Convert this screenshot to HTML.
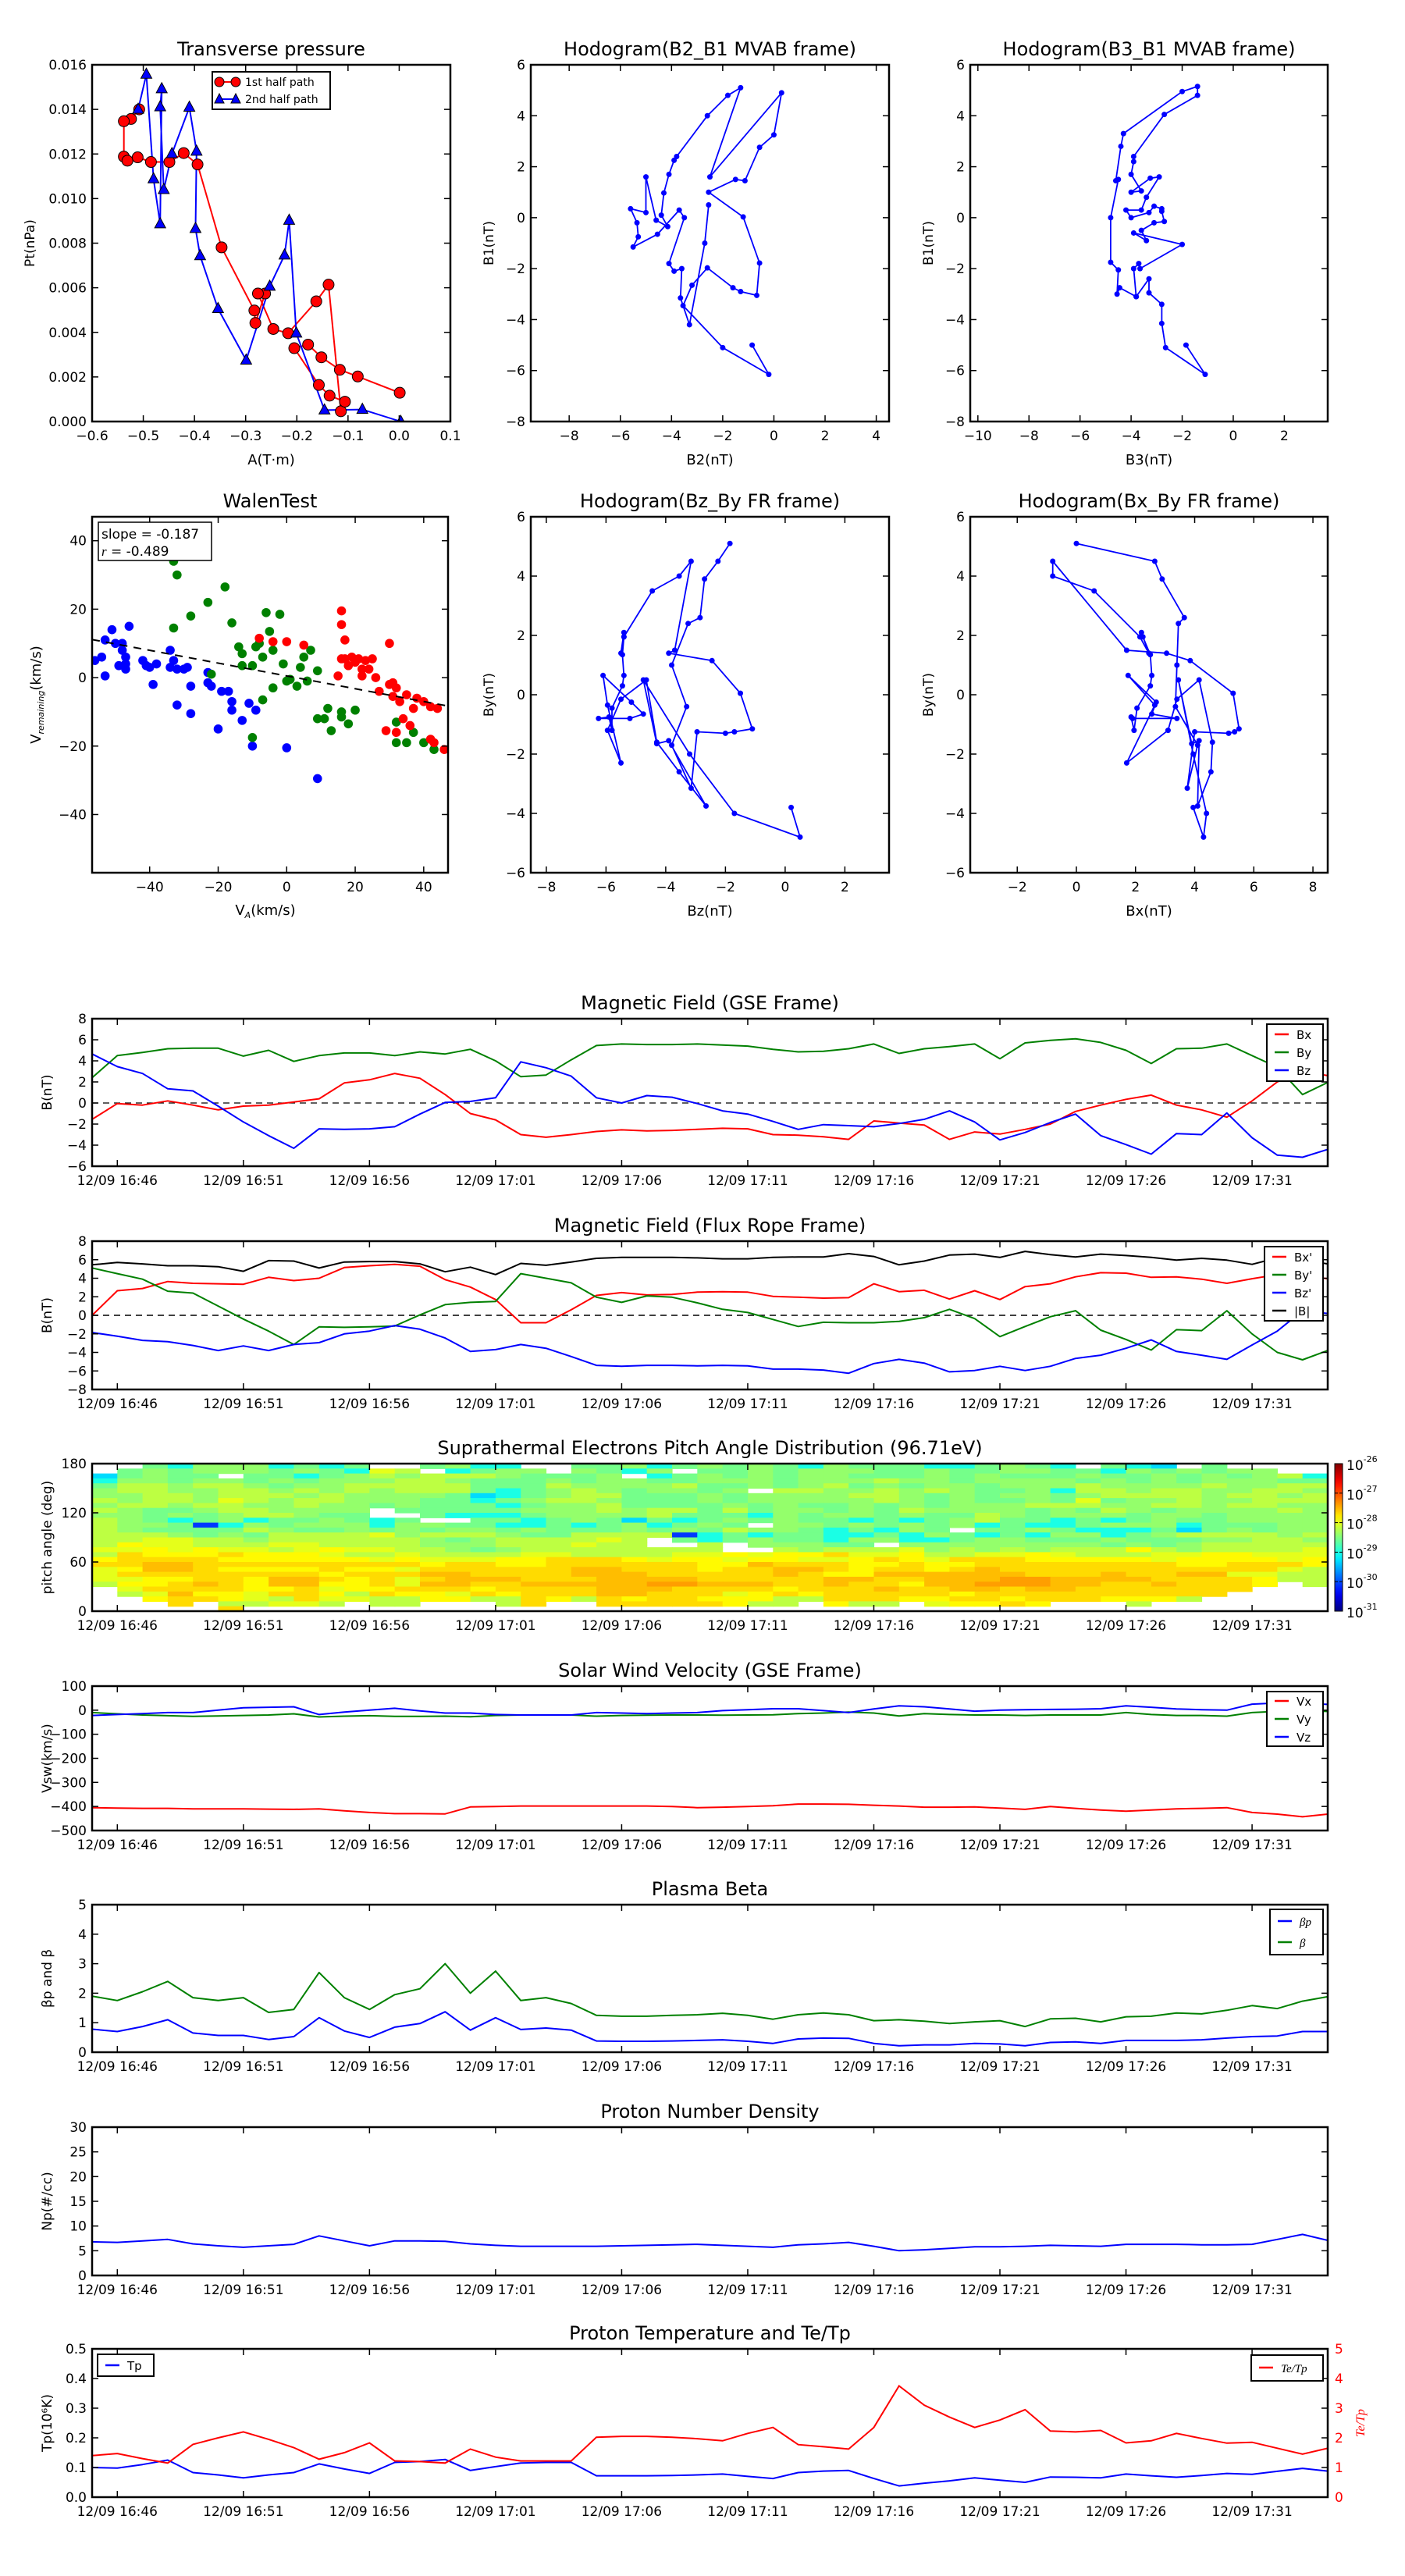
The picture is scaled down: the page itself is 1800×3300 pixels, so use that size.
<!DOCTYPE html>
<html><head><meta charset="utf-8"><style>
html,body{margin:0;padding:0;background:#fff;}
svg{display:block;font-family:"DejaVu Sans","Liberation Sans",sans-serif;}
</style></head><body>
<svg id="c" xmlns="http://www.w3.org/2000/svg" width="1800" height="3300" viewBox="0 0 1800 3300">
<rect x="0" y="0" width="1800" height="3300" fill="#fff"/>
</svg>
<script>
// ---------- time series data (1-min samples, 16:45 .. 17:34) ----------
const timeTickMinutes=[1,6,11,16,21,26,31,36,41,46];
const timeTickLabels=["12/09 16:46","12/09 16:51","12/09 16:56","12/09 17:01","12/09 17:06","12/09 17:11","12/09 17:16","12/09 17:21","12/09 17:26","12/09 17:31"];
const bxGSE=[-1.55,-0.05,-0.2,0.2,-0.2,-0.65,-0.3,-0.2,0.1,0.4,1.9,2.2,2.8,2.35,0.8,-1.0,-1.6,-3.0,-3.25,-3.0,-2.7,-2.55,-2.65,-2.6,-2.5,-2.4,-2.45,-3.0,-3.05,-3.2,-3.45,-1.7,-1.9,-2.1,-3.45,-2.75,-2.95,-2.5,-2.0,-0.8,-0.2,0.35,0.75,-0.2,-0.65,-1.35,0.2,2.0,3.0,2.6];
const byGSE=[2.4,4.5,4.8,5.15,5.2,5.2,4.45,5.0,3.95,4.5,4.75,4.75,4.5,4.85,4.65,5.1,4.0,2.5,2.65,4.1,5.45,5.6,5.55,5.55,5.6,5.5,5.4,5.1,4.85,4.9,5.15,5.6,4.7,5.15,5.35,5.6,4.2,5.7,5.95,6.1,5.75,5.0,3.75,5.15,5.2,5.6,4.5,3.4,0.8,1.95];
const bzGSE=[4.65,3.45,2.8,1.35,1.15,-0.3,-1.8,-3.1,-4.3,-2.45,-2.5,-2.45,-2.25,-1.05,0.05,0.15,0.5,3.9,3.35,2.55,0.5,0.0,0.7,0.55,-0.05,-0.75,-1.05,-1.75,-2.5,-2.05,-2.15,-2.25,-1.95,-1.55,-0.75,-1.8,-3.5,-2.8,-1.85,-1.05,-3.1,-3.95,-4.85,-2.9,-3.0,-0.95,-3.3,-4.95,-5.15,-4.4];
const bxFR=[0,2.65,2.9,3.65,3.45,3.4,3.35,4.1,3.75,4.0,5.15,5.35,5.5,5.3,3.85,3.05,1.7,-0.8,-0.8,0.6,2.15,2.45,2.2,2.25,2.5,2.55,2.5,2.05,1.95,1.85,1.9,3.4,2.55,2.7,1.75,2.65,1.7,3.1,3.4,4.15,4.6,4.55,4.1,4.15,3.9,3.45,3.95,4.4,4.3,3.95];
const byFR=[5.1,4.5,3.9,2.6,2.4,1.0,-0.4,-1.7,-3.15,-1.25,-1.3,-1.25,-1.15,0.05,1.15,1.4,1.5,4.5,4.0,3.5,1.95,1.4,2.1,1.95,1.35,0.65,0.3,-0.45,-1.2,-0.75,-0.8,-0.8,-0.65,-0.25,0.65,-0.35,-2.3,-1.2,-0.15,0.5,-1.6,-2.6,-3.75,-1.55,-1.65,0.5,-2.0,-4.0,-4.8,-3.8];
const bzFR=[-1.85,-2.25,-2.7,-2.85,-3.25,-3.8,-3.3,-3.8,-3.15,-2.95,-2.0,-1.7,-1.1,-1.5,-2.45,-3.9,-3.7,-3.15,-3.55,-4.45,-5.4,-5.5,-5.4,-5.4,-5.45,-5.4,-5.45,-5.8,-5.8,-5.9,-6.25,-5.2,-4.75,-5.15,-6.1,-5.95,-5.5,-5.95,-5.5,-4.65,-4.3,-3.55,-2.65,-3.9,-4.3,-4.75,-3.2,-1.7,0.5,0.2];
const btFR=[5.45,5.7,5.55,5.35,5.35,5.25,4.75,5.9,5.85,5.1,5.75,5.8,5.8,5.55,4.7,5.2,4.4,5.6,5.4,5.75,6.15,6.25,6.25,6.25,6.2,6.1,6.1,6.25,6.3,6.3,6.65,6.35,5.45,5.85,6.5,6.6,6.25,6.9,6.55,6.3,6.6,6.45,6.25,5.95,6.15,5.95,5.5,6.2,6.0,5.55];
const vx=[-405,-407,-408,-408,-410,-410,-410,-411,-412,-410,-418,-425,-430,-430,-431,-402,-400,-398,-398,-398,-398,-398,-398,-400,-405,-403,-400,-397,-390,-390,-391,-395,-398,-403,-403,-402,-407,-412,-400,-408,-415,-420,-415,-410,-408,-405,-425,-432,-443,-432];
const vy=[-10,-15,-20,-23,-26,-24,-22,-20,-15,-28,-25,-23,-26,-26,-25,-27,-22,-20,-20,-20,-25,-22,-21,-20,-20,-21,-20,-19,-14,-12,-8,-12,-24,-14,-18,-20,-20,-22,-20,-20,-20,-10,-18,-22,-22,-25,-10,-5,-5,-5];
const vz=[-22,-18,-14,-10,-10,0,10,12,14,-18,-8,0,8,-3,-12,-12,-18,-20,-20,-20,-10,-12,-14,-12,-10,-2,2,6,6,-2,-10,5,18,14,5,-4,0,2,3,4,6,18,12,5,2,0,25,30,28,24];
const betaP=[0.78,0.7,0.87,1.1,0.65,0.57,0.57,0.43,0.53,1.17,0.72,0.5,0.85,0.97,1.37,0.75,1.17,0.77,0.82,0.75,0.38,0.37,0.37,0.38,0.4,0.42,0.37,0.3,0.45,0.48,0.47,0.3,0.22,0.25,0.25,0.3,0.28,0.22,0.33,0.35,0.3,0.4,0.4,0.4,0.42,0.48,0.53,0.55,0.7,0.7];
const betaT=[1.9,1.75,2.05,2.4,1.85,1.75,1.85,1.35,1.45,2.7,1.85,1.45,1.95,2.15,3.0,2.0,2.75,1.75,1.85,1.65,1.25,1.22,1.22,1.25,1.27,1.32,1.25,1.12,1.27,1.33,1.27,1.07,1.1,1.05,0.97,1.03,1.07,0.87,1.13,1.15,1.03,1.2,1.22,1.33,1.3,1.42,1.58,1.48,1.73,1.88];
const np=[6.8,6.7,7.0,7.3,6.4,6.0,5.7,6.0,6.3,8.0,7.0,6.0,7.0,7.0,6.9,6.4,6.1,5.9,5.9,5.9,5.9,6.0,6.1,6.2,6.3,6.1,5.9,5.7,6.2,6.4,6.7,5.9,5.0,5.2,5.5,5.8,5.8,5.9,6.1,6.0,5.9,6.3,6.3,6.3,6.2,6.2,6.3,7.3,8.3,7.1];
const tp=[0.1,0.098,0.11,0.125,0.083,0.075,0.065,0.075,0.083,0.112,0.095,0.08,0.117,0.12,0.127,0.09,0.103,0.115,0.117,0.117,0.072,0.072,0.072,0.073,0.075,0.078,0.07,0.063,0.083,0.088,0.09,0.063,0.038,0.047,0.055,0.065,0.057,0.05,0.068,0.067,0.065,0.078,0.072,0.067,0.073,0.08,0.077,0.087,0.097,0.088];
const teTp=[1.4,1.47,1.3,1.15,1.78,2.0,2.2,1.95,1.67,1.28,1.5,1.83,1.22,1.2,1.15,1.62,1.35,1.22,1.22,1.22,2.02,2.05,2.05,2.02,1.97,1.9,2.15,2.35,1.77,1.7,1.62,2.35,3.75,3.1,2.7,2.35,2.6,2.95,2.23,2.2,2.25,1.83,1.9,2.15,1.98,1.82,1.85,1.65,1.45,1.65];
// PAD: rows from 180deg (top) downward, 6deg bins; codes map to log10 flux
const padCodes={a:-29.3,b:-29.0,c:-28.55,d:-28.4,e:-28.2,f:-28.0,g:-27.85,h:-27.7,i:-27.55,j:-27.4,B:-30.1,C:-29.5};
const padRows=[
"..cbdddbcbc..cdbb..ccdbcdcdcbdcccbbcdcb.cba.c....",
".cdcdddcdcbfe.bcdd.dcbd.ccdcdddccdccddccbdcdcdd..",
"acdcc.ccbcdedeeedcccd.bcdcdcddcccdcdcccdccdcdcdeb",
"bddcddcdcdddeedcccdcddccdddcdddeddcddddcdcdcdddcc",
"ceedeedcddeeeeeccceddddeccdcdecdcddcdddeddddeddee",
"deeddeedededeeecbcdedcddcd.eeddededccdbeedeeddeed",
"ddeedeeededdddcabcdeecccdcddddeedcdcddcdeeeedeede",
"edeedfedeedddccbcdeedcccdcdddddedcdccdcfcddeddeee",
"deedeeddeddcdcccbcddeccccdcdccdcdcdddeeeddeedeedd",
"edccdeedddd.cccccdddedeececddcdceddddcdcedcdddded",
"ddcdcdeedcc..cbbbcddddecccbdcddcdccedcdddcddcdddd",
"edcbcdbccdcbc..ccbcdcacbcdcdccbcbcdeccbcbcdccdddd",
"eddcBbdcdddbddccbbcbcdbcdc.ddcdcdcdbcbbcdddbcccdd",
"edccccedccdcdcddcdcccdcdceddcbcbdc.ccdcbbbcacdcdd",
"eeedcdceeeefdeeedcceeeeBbcbccbbcbdcbcbddbcdeeeede",
"eeffeedeeeeeedcdeeeefe.cbcdccbddbbcddcccdcccddeed",
"egffeeeffeeeedddeeefee..e.dddcc.ddddddddcdcdeeeee",
"ffgfgffefgffeedcdeeeeeeee..edeeefdededeeegedeeeef",
"ehggghgggfeefeeeeffeeeeffgfgghffgeeffgfeeeffggfff",
"ghhhhggggggfgfffgghhhgfggfggffghgfhhhgggggfggggfg",
"hhiihhhhhhhhhghhgghhhhhhggihhhgghgghhhhhhhhgghhhg",
"fgiihgggghggfhhhhhhiihhhghhiihghhghihhhhhhhhhhhfe",
"fhhhhhhhhghhhiihhhhiiihhhhhihggiiiiiihhhihhiiffee",
"ffgghhgiihghfhiiihhhiiiihhhhhiihhiiijjiiiihhhhgee",
"egghihgiigghfiihhiiiiijjiiihhihhgiijjjiihhihhhg.e",
".fhhhhgghfgghhhghhhhiiihhhhghhhihhiihiihhhhhhh...",
".efiggfhhgehggfhghhhiihhhfghghhhhhghhhhhhhhhh....",
"..ghhgfehffeeggeehgehghhgggeehhhgghhghhhggge.....",
"...h.eeffe.ee...eh..hhhhhgee.gee.fgghg...e.......",
".....h..........................................."];
// ---------- top panels data ----------
const pt1A=[-0.508,-0.524,-0.538,-0.538,-0.531,-0.511,-0.485,-0.449,-0.421,-0.394,-0.347,-0.283,-0.281,-0.262,-0.276,-0.246,-0.217,-0.162,-0.138,-0.114,-0.106,-0.136,-0.157,-0.205,-0.178,-0.152,-0.116,-0.081,0.001];
const pt1P=[0.0140,0.01357,0.01347,0.01188,0.0117,0.01185,0.01164,0.01164,0.01204,0.01153,0.00781,0.00498,0.00442,0.00574,0.00574,0.00415,0.00396,0.00539,0.00614,0.00046,0.00089,0.00116,0.00164,0.00329,0.00345,0.00288,0.00232,0.00202,0.00129];
const pt2A=[0.003,-0.072,-0.146,-0.201,-0.215,-0.224,-0.253,-0.299,-0.354,-0.389,-0.398,-0.396,-0.41,-0.444,-0.46,-0.467,-0.464,-0.467,-0.48,-0.494,-0.51];
const pt2P=[0.0,0.00054,0.00051,0.00396,0.00902,0.00746,0.00606,0.00275,0.00506,0.00743,0.00865,0.01212,0.01409,0.01201,0.0104,0.01411,0.01492,0.00886,0.01088,0.01557,0.0140];
const h2B2=[-0.85,-0.2,-2.0,-3.55,-3.2,-2.6,-1.6,-1.3,-0.67,-0.56,-1.2,-2.55,-1.5,-1.13,-0.56,0.0,0.3,-2.5,-1.3,-1.8,-2.6,-3.8,-3.9,-4.1,-4.3,-4.4,-4.15,-4.6,-5.0,-5.0,-5.6,-5.35,-5.3,-5.5,-4.55,-3.7,-3.5,-4.1,-3.9,-3.6,-3.65,-3.3,-2.7,-2.55];
const h2B1=[-5.0,-6.15,-5.1,-3.45,-2.65,-1.97,-2.75,-2.9,-3.05,-1.78,0.03,1.0,1.5,1.45,2.76,3.25,4.9,1.6,5.1,4.8,4.0,2.4,2.25,1.7,0.97,0.1,-0.35,-0.1,1.6,0.2,0.35,-0.2,-0.75,-1.15,-0.65,0.3,0.0,-1.8,-2.1,-2.0,-3.15,-4.2,-1.0,0.5];
const h3B3=[-1.85,-1.1,-2.65,-2.8,-2.8,-3.3,-3.3,-3.8,-3.9,-3.7,-3.65,-2.0,-3.9,-3.4,-3.6,-3.1,-2.7,-2.8,-2.8,-3.1,-3.3,-4.0,-4.2,-3.6,-3.4,-2.9,-3.25,-4.0,-3.6,-4.0,-3.9,-3.9,-2.7,-1.4,-1.4,-2.0,-4.3,-4.4,-4.6,-4.5,-4.8,-4.8,-4.5,-4.55,-4.45,-3.8];
const h3B1=[-5.0,-6.15,-5.1,-4.15,-3.4,-2.95,-2.4,-3.1,-2.0,-1.8,-2.0,-1.05,-0.6,-0.9,-0.5,-0.2,-0.15,0.25,0.35,0.45,0.2,0.0,0.3,0.3,0.8,1.6,1.55,1.0,1.05,1.7,2.2,2.4,4.05,4.8,5.15,4.95,3.3,2.8,1.45,1.5,0.0,-1.75,-2.05,-3.0,-2.75,-3.1];
// Walen test
const walenBlueVA=[-56,-54,-53,-53,-51,-50,-49,-48,-48,-47,-47,-47,-46,-42,-41,-40,-39,-38,-34,-34,-33,-32,-32,-30,-29,-28,-28,-23,-23,-22,-20,-19,-17,-16,-16,-13,-11,-9,-10,0,9];
const walenBlueVR=[5,6,0.5,11,14,10,3.5,8,10,4,2.5,6,15,5,3.5,3,-2,4,8,3,5,2.5,-8,2.5,3,-2.5,-10.5,1.5,-1.5,-2.5,-15,-4,-4,-7,-9.5,-12.5,-7.5,-9.5,-20,-20.5,-29.5];
const walenGreenVA=[-33,-32,-28,-23,-18,-16,-33,-14,-13,-13,-10,-9,-8,-7,-6,-5,-4,-2,-1,0,1,3,4,5,6,7,9,9,11,12,13,16,16,18,20,-22,-10,-7,-4,32,32,35,37,40,43];
const walenGreenVR=[34,30,18,22,26.5,16,14.5,9,7,3.5,3.5,9,10,6,19,13.5,8,18.5,4,-1,-0.5,-2.5,3,6,-1,8,2,-12,-12,-9,-15.5,-10,-11.5,-13.5,-9.5,1,-17.5,-6.5,-3,-13,-19,-19,-16,-19,-21];
const walenRedVA=[-8,-4,0,5,16,16,17,16,15,17,18,19,20,21,22,22,23,24,25,26,27,29,30,30,31,31,32,32,33,34,35,36,37,38,40,42,43,44,46,42];
const walenRedVR=[11.5,10.5,10.5,9.5,19.5,15.5,11,5.5,0.5,5.5,3.5,6,4.5,5.5,2.5,0.5,5,2.5,5.5,0,-4,-15.5,-2,10,-1.5,-5.5,-16,-3,-7,-12,-5,-14,-9,-6,-7,-8.5,-19,-9,-21,-18];
const walenSlope=-0.187, walenIntercept=0.5;
</script>
<script>
const NS='http://www.w3.org/2000/svg';
const svg=document.getElementById('c');
let clipId=0;
function mk(tag,attrs,parent){const e=document.createElementNS(NS,tag);for(const k in attrs)e.setAttribute(k,attrs[k]);(parent||svg).appendChild(e);return e;}
function txt(s,x,y,size,anchor,parent,extra){const t=mk('text',Object.assign({x:x,y:y,'font-size':size,'text-anchor':anchor||'middle',fill:'#000'},extra||{}),parent);t.textContent=s;return t;}
function fmt(v,d){const s=Math.abs(v).toFixed(d);return (v<0?'\u2212':'')+s;}

function axes(o){
  const g=mk('g',{});
  
  
  const sx=v=>o.x0+(v-o.xd[0])/(o.xd[1]-o.xd[0])*(o.x1-o.x0);
  const sy=v=>o.y1-(v-o.yd[0])/(o.yd[1]-o.yd[0])*(o.y1-o.y0);
  const id='clip'+(clipId++);
  const cp=mk('clipPath',{id:id},g);
  mk('rect',{x:o.x0,y:o.y0,width:o.x1-o.x0,height:o.y1-o.y0},cp);
  const data=mk('g',{'clip-path':'url(#'+id+')'},g);
  
  
  const fr=mk('g',{},g);
  const frame=mk('rect',{x:o.x0,y:o.y0,width:o.x1-o.x0,height:o.y1-o.y0,fill:'none',stroke:'#000','stroke-width':2.5},fr);
  
  
  const xa=mk('g',{},fr);
  
  
  o.xt.forEach((v,i)=>{const X=sx(v);
    mk('line',{x1:X,y1:o.y1,x2:X,y2:o.y1-8,stroke:'#000','stroke-width':1.5},xa);
    mk('line',{x1:X,y1:o.y0,x2:X,y2:o.y0+8,stroke:'#000','stroke-width':1.5},xa);
    const t=txt(o.xtl[i],X,o.y1+24,o.tfs||17,'middle',xa);
    
    
  });
  const ya=mk('g',{},fr);
  
  
  o.yt.forEach((v,i)=>{const Y=sy(v);
    mk('line',{x1:o.x0,y1:Y,x2:o.x0+8,y2:Y,stroke:'#000','stroke-width':1.5},ya);
    mk('line',{x1:o.x1,y1:Y,x2:o.x1-8,y2:Y,stroke:'#000','stroke-width':1.5},ya);
    const t=txt(o.ytl[i],o.x0-7,Y+6,o.tfs||17,'end',ya);
    
    
  });
  if(o.title){const t=txt(o.title,(o.x0+o.x1)/2,o.y0-12,24,'middle',g);
    
    }
  if(o.xlabel){const t=txt(o.xlabel,(o.x0+o.x1)/2,o.y1+55,18,'middle',g);
    
    }
  if(o.ylabel){const cx=o.ylx,cy=(o.y0+o.y1)/2;const t=txt(o.ylabel,cx,cy,17,'middle',g,{transform:'rotate(-90 '+cx+' '+cy+')'});
    
    }
  return {sx,sy,data,g};
}
function range(a,b,s){const r=[];for(let v=a;v<=b+1e-9;v+=s)r.push(+v.toFixed(6));return r;}
function polyline(ax,xs,ys,color,parent,w,dash){
  const pts=xs.map((x,i)=>ax.sx(x).toFixed(1)+','+ax.sy(ys[i]).toFixed(1)).join(' ');
  const a={points:pts,fill:'none',stroke:color,'stroke-width':w||2,'stroke-linejoin':'round'};
  if(dash)a['stroke-dasharray']=dash;
  return mk('polyline',a,parent||ax.data);
}
function legend(x,y,w,h,items,fs){
  const g=mk('g',{});
  
  
  mk('rect',{x:x,y:y,width:w,height:h,fill:'#fff',stroke:'#000','stroke-width':2},g);
  items.forEach(it=>{
    const e=mk('g',{},g);
    
    
    mk('line',{x1:x+10,y1:it.y,x2:x+28,y2:it.y,stroke:it.color,'stroke-width':2.5},e);
    const t=txt(it.label,x+38,it.y+6,fs||16,'start',e,it.italic?{'font-style':'italic','font-family':'Liberation Serif, serif'}:{});
  });
  return g;
}
const timeXd=[0,49];
const tIdx=bxGSE.map((_,i)=>i);
function timeAxes(name,y0,y1,yd,yt,ytl,title,ylabel){
  return axes({name:name,x0:118,x1:1701,y0:y0,y1:y1,xd:timeXd,yd:yd,xt:timeTickMinutes,xtl:timeTickLabels,yt:yt,ytl:ytl,title:title,ylabel:ylabel,ylx:66,tfs:17});
}

// ===== Row 1 =====
(function(){
  const ax=axes({name:'transverse-pressure',x0:118,x1:577,y0:83,y1:540,xd:[-0.6,0.1],yd:[0,0.016],
    xt:range(-0.6,0.1,0.1),xtl:range(-0.6,0.1,0.1).map(v=>fmt(v,1)),yt:range(0,0.016,0.002),ytl:range(0,0.016,0.002).map(v=>v.toFixed(3)),
    title:'Transverse pressure',xlabel:'A(T\u00b7m)',ylabel:'Pt(nPa)',ylx:44});
  const l1=polyline(ax,pt1A,pt1P,'#ff0000');
  
  
  const l2=polyline(ax,pt2A,pt2P,'#0000ff');
  
  
  pt1A.forEach((a,i)=>{const c=mk('circle',{cx:ax.sx(a),cy:ax.sy(pt1P[i]),r:7,fill:'#ff0000',stroke:'#000','stroke-width':1},ax.data);
    
    });
  pt2A.forEach((a,i)=>{const X=ax.sx(a),Y=ax.sy(pt2P[i]);const p=mk('polygon',{points:`${X},${Y-8} ${X-7},${Y+5} ${X+7},${Y+5}`,fill:'#0000ff',stroke:'#000','stroke-width':1},ax.data);
    
    });
  const g=mk('g',{});
  
  
  mk('rect',{x:272,y:92,width:151,height:48,fill:'#fff',stroke:'#000','stroke-width':2},g);
  mk('line',{x1:278,y1:105,x2:305,y2:105,stroke:'#f00','stroke-width':2},g);
  mk('circle',{cx:281,cy:105,r:6,fill:'#f00',stroke:'#000'},g);mk('circle',{cx:302,cy:105,r:6,fill:'#f00',stroke:'#000'},g);
  txt('1st half path',314,110,14,'start',g);
  mk('line',{x1:278,y1:127,x2:305,y2:127,stroke:'#00f','stroke-width':2},g);
  mk('polygon',{points:'281,120 275,132 287,132',fill:'#00f',stroke:'#000'},g);mk('polygon',{points:'302,120 296,132 308,132',fill:'#00f',stroke:'#000'},g);
  txt('2nd half path',314,132,14,'start',g);
})();

function hodo(name,x0,x1,y0,y1,xd,yd,xt,yt,xs,ys,title,xlabel,ylabel){
  const ax=axes({name:name,x0:x0,x1:x1,y0:y0,y1:y1,xd:xd,yd:yd,xt:xt,xtl:xt.map(v=>fmt(v,0)),yt:yt,ytl:yt.map(v=>fmt(v,0)),title:title,xlabel:xlabel,ylabel:ylabel,ylx:x0-48});
  const l=polyline(ax,xs,ys,'#0000ff',null,1.8);
  
  
  xs.forEach((x,i)=>{const c=mk('circle',{cx:ax.sx(x),cy:ax.sy(ys[i]),r:3.5,fill:'#0000ff'},ax.data);
    
    });
}
hodo('hodogram-b2-b1',680,1139,83,540,[-9.5,4.5],[-8,6],range(-8,4,2),range(-8,6,2),h2B2,h2B1,'Hodogram(B2_B1 MVAB frame)','B2(nT)','B1(nT)');
hodo('hodogram-b3-b1',1243,1701,83,540,[-10.3,3.7],[-8,6],range(-10,2,2),range(-8,6,2),h3B3,h3B1,'Hodogram(B3_B1 MVAB frame)','B3(nT)','B1(nT)');

// ===== Row 2 =====
(function(){
  const ax=axes({name:'walen-test',x0:118,x1:574,y0:662,y1:1118,xd:[-56.8,47.1],yd:[-57,47],xt:range(-40,40,20),xtl:range(-40,40,20).map(v=>fmt(v,0)),
    yt:range(-40,40,20),ytl:range(-40,40,20).map(v=>fmt(v,0)),title:'WalenTest'});
  const xl=txt('V',340,1172,18,'middle',ax.g);const s1=mk('tspan',{'font-size':11,'font-style':'italic',dy:4},xl);s1.textContent='A';const s2=mk('tspan',{dy:-4},xl);s2.textContent='(km/s)';
  
  
  const yl=txt('V',52,890,18,'middle',svg,{transform:'rotate(-90 52 890)'});const s3=mk('tspan',{'font-size':11,'font-style':'italic',dy:4},yl);s3.textContent='remaining';const s4=mk('tspan',{dy:-4},yl);s4.textContent='(km/s)';
  
  
  const sets=[[walenBlueVA,walenBlueVR,'#0000ff','blue'],[walenGreenVA,walenGreenVR,'#008000','green'],[walenRedVA,walenRedVR,'#ff0000','red']];
  sets.forEach(s=>s[0].forEach((x,i)=>{const c=mk('circle',{cx:ax.sx(x),cy:ax.sy(s[1][i]),r:5.8,fill:s[2]},ax.data);
    
    }));
  const xa=-56.8,xb=47.1;
  const fit=mk('line',{x1:ax.sx(xa),y1:ax.sy(walenSlope*xa+walenIntercept),x2:ax.sx(xb),y2:ax.sy(walenSlope*xb+walenIntercept),stroke:'#000','stroke-width':2,'stroke-dasharray':'10,8'},ax.data);
  
  
  const box=mk('g',{});
  
  
  mk('rect',{x:126,y:669,width:145,height:49,fill:'#fff',stroke:'#000','stroke-width':1.5},box);
  txt('slope = -0.187',130,690,17,'start',box);
  const rt=txt('',130,712,17,'start',box);const ri=mk('tspan',{'font-style':'italic','font-family':'Liberation Serif, serif'},rt);ri.textContent='r';const rr=mk('tspan',{},rt);rr.textContent=' = -0.489';
})();
hodo('hodogram-bz-by',680,1139,662,1118,[-8.52,3.48],[-6,6],range(-8,2,2),range(-6,6,2),bzFR,byFR,'Hodogram(Bz_By FR frame)','Bz(nT)','By(nT)');
hodo('hodogram-bx-by',1243,1701,662,1118,[-3.59,8.5],[-6,6],range(-2,8,2),range(-6,6,2),bxFR,byFR,'Hodogram(Bx_By FR frame)','Bx(nT)','By(nT)');

// ===== Time series panels =====
(function(){
  const ax=timeAxes('magnetic-field-gse',1305,1494,[-6,8],range(-6,8,2),range(-6,8,2).map(v=>fmt(v,0)),'Magnetic Field (GSE Frame)','B(nT)');
  const z=mk('line',{x1:118,y1:ax.sy(0),x2:1701,y2:ax.sy(0),stroke:'#000','stroke-width':1.2,'stroke-dasharray':'8,6'},ax.data);
  
  
  [[bxGSE,'#ff0000','bx'],[byGSE,'#008000','by'],[bzGSE,'#0000ff','bz']].forEach(s=>{const l=polyline(ax,tIdx,s[0],s[1]);
    
    });
  legend(1623,1312,72,73,[{key:'bx',label:'Bx',color:'#f00',y:1325},{key:'by',label:'By',color:'#008000',y:1348},{key:'bz',label:'Bz',color:'#00f',y:1371}],15);
})();
(function(){
  const ax=timeAxes('magnetic-field-flux-rope',1590,1780,[-8,8],range(-8,8,2),range(-8,8,2).map(v=>fmt(v,0)),'Magnetic Field (Flux Rope Frame)','B(nT)');
  const z=mk('line',{x1:118,y1:ax.sy(0),x2:1701,y2:ax.sy(0),stroke:'#000','stroke-width':1.5,'stroke-dasharray':'8,6'},ax.data);
  
  
  [[bxFR,'#ff0000','bx-prime'],[byFR,'#008000','by-prime'],[bzFR,'#0000ff','bz-prime'],[btFR,'#000000','b-total']].forEach(s=>{const l=polyline(ax,tIdx,s[0],s[1]);
    
    });
  legend(1620,1597,75,95,[{key:'bx',label:"Bx'",color:'#f00',y:1610},{key:'by',label:"By'",color:'#008000',y:1633},{key:'bz',label:"Bz'",color:'#00f',y:1656},{key:'bt',label:'|B|',color:'#000',y:1679}],15);
})();
function jet(t){t=Math.max(0,Math.min(1,t));const c=v=>Math.round(255*Math.max(0,Math.min(1,v)));
  return 'rgb('+c(1.5-Math.abs(4*t-3))+','+c(1.5-Math.abs(4*t-2))+','+c(1.5-Math.abs(4*t-1))+')';}
(function(){
  const ax=timeAxes('pitch-angle-distribution',1875,2064,[0,180],[0,60,120,180],['0','60','120','180'],'Suprathermal Electrons Pitch Angle Distribution (96.71eV)','pitch angle (deg)');
  padRows.forEach((row,r)=>{
    for(let c=0;c<Math.min(row.length,49);c++){const ch=row[c];if(!(ch in padCodes))continue;
      const v=padCodes[ch];const t=(v+31)/5;
      const top=180-6*r,bot=180-6*(r+1);
      const x0=ax.sx(c),x1=ax.sx(c+1),y0=ax.sy(top),y1=ax.sy(bot);
      const cell=mk('rect',{x:x0.toFixed(1),y:y0.toFixed(1),width:(x1-x0+0.6).toFixed(1),height:(y1-y0+0.6).toFixed(1),fill:jet(t)},ax.data);
      
      
    }
  });
  const defs=mk('defs',{});
  const lg=mk('linearGradient',{id:'jetg',x1:0,y1:1,x2:0,y2:0},defs);
  for(let i=0;i<=20;i++){mk('stop',{offset:(i/20),'stop-color':jet(i/20)},lg);}
  const cb=mk('g',{});
  
  
  mk('rect',{x:1710,y:1875,width:10,height:189,fill:'url(#jetg)',stroke:'#000','stroke-width':1},cb);
  [-26,-27,-28,-29,-30,-31].forEach(e=>{const Y=1875+(-26-e)/5*189;
    mk('line',{x1:1710,y1:Y,x2:1714,y2:Y,stroke:'#000'},cb);mk('line',{x1:1716,y1:Y,x2:1720,y2:Y,stroke:'#000'},cb);
    const t=txt('10',1725,Y+8,17,'start',cb);const sp=mk('tspan',{'font-size':11,dy:-10},t);sp.textContent=String(e);
    
    });
})();
(function(){
  const ax=timeAxes('solar-wind-velocity',2160,2345,[-500,100],range(-500,100,100),range(-500,100,100).map(v=>fmt(v,0)),'Solar Wind Velocity (GSE Frame)','Vsw(km/s)');
  [[vx,'#ff0000','vx'],[vy,'#008000','vy'],[vz,'#0000ff','vz']].forEach(s=>{const l=polyline(ax,tIdx,s[0],s[1]);
    
    });
  legend(1623,2167,72,70,[{key:'vx',label:'Vx',color:'#f00',y:2179},{key:'vy',label:'Vy',color:'#008000',y:2202},{key:'vz',label:'Vz',color:'#00f',y:2225}],15);
})();
(function(){
  const ax=timeAxes('plasma-beta',2440,2629,[0,5],range(0,5,1),range(0,5,1).map(v=>fmt(v,0)),'Plasma Beta','\u03b2p and \u03b2');
  [[betaP,'#0000ff','beta-p'],[betaT,'#008000','beta']].forEach(s=>{const l=polyline(ax,tIdx,s[0],s[1]);
    
    });
  legend(1627,2446,68,58,[{key:'betap',label:'\u03b2p',color:'#00f',y:2461,italic:true},{key:'beta',label:'\u03b2',color:'#008000',y:2488,italic:true}],15);
})();
(function(){
  const ax=timeAxes('proton-number-density',2725,2915,[0,30],range(0,30,5),range(0,30,5).map(v=>fmt(v,0)),'Proton Number Density','Np(#/cc)');
  const l=polyline(ax,tIdx,np,'#0000ff');
  
  
})();
(function(){
  const ax=timeAxes('proton-temperature',3009,3199,[0,0.5],range(0,0.5,0.1),range(0,0.5,0.1).map(v=>v.toFixed(1)),'Proton Temperature and Te/Tp','Tp(10\u2076K)');
  const sy2=v=>3199-v/5*190;
  const l=polyline(ax,tIdx,tp,'#0000ff');
  
  
  const pts=teTp.map((v,i)=>ax.sx(i).toFixed(1)+','+sy2(v).toFixed(1)).join(' ');
  const l2=mk('polyline',{points:pts,fill:'none',stroke:'#ff0000','stroke-width':2},ax.data);
  
  
  const ra=mk('g',{});
  
  
  [0,1,2,3,4,5].forEach(v=>{const t=txt(String(v),1710,sy2(v)+6,17,'start',ra,{fill:'#f00'});});
  const rl=txt('Te/Tp',1748,3104,16,'middle',ra,{fill:'#f00','font-style':'italic','font-family':'Liberation Serif, serif',transform:'rotate(-90 1748 3104)'});
  legend(125,3016,72,28,[{key:'tp',label:'Tp',color:'#00f',y:3030}],15);
  legend(1603,3017,92,33,[{key:'tetp',label:'Te/Tp',color:'#f00',y:3033,italic:true}],15);
})();
</script>
</body></html>
